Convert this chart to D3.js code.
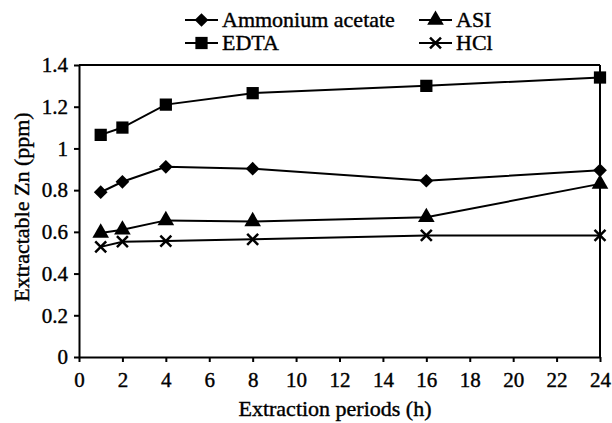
<!DOCTYPE html>
<html><head><meta charset="utf-8">
<script src="https://cdn.jsdelivr.net/npm/d3@7/dist/d3.min.js"></script>
<style>body{margin:0;background:#fff}svg{display:block}svg text{font-family:"Liberation Serif",serif;}</style>
</head><body>
<svg id="c" width="612" height="423"></svg>
<script>
const hours = [1, 2, 4, 8, 16, 24];
const ammoniumAcetate = [0.79, 0.84, 0.912, 0.903, 0.845, 0.895];
const edta = [1.065, 1.10, 1.21, 1.265, 1.30, 1.34];
const asi = [0.595, 0.61, 0.655, 0.65, 0.67, 0.83];
const hcl = [0.528, 0.553, 0.556, 0.564, 0.583, 0.583];
const xTicks = [0,2,4,6,8,10,12,14,16,18,20,22,24];
const yTicks = [0,0.2,0.4,0.6,0.8,1,1.2,1.4];
const seriesNames = ["Ammonium acetate","EDTA","ASI","HCl"];

const svg = d3.select("#c");
const FAM = "Liberation Serif";
function styleText(sel, fs){ sel.style("font-family",FAM).style("font-size",fs+"px").attr("fill","#000").attr("stroke","#000").attr("stroke-width",0.4); }
const m = {l:79, r:600, t:65, b:357};
const x = d3.scaleLinear().domain([0,24]).range([m.l, m.r]);
const y = d3.scaleLinear().domain([0,1.4]).range([m.b, m.t]);

svg.append("line").attr("x1",m.l).attr("x2",m.r).attr("y1",m.t).attr("y2",m.t).attr("stroke","#000").attr("stroke-width",2);
svg.append("line").attr("x1",m.r).attr("x2",m.r).attr("y1",m.t).attr("y2",m.b).attr("stroke","#000").attr("stroke-width",2);

const xa = svg.append("g").attr("transform",`translate(0,${m.b})`)
  .call(d3.axisBottom(x).tickValues(xTicks).tickFormat(d3.format("d")).tickSize(5).tickSizeOuter(0).tickPadding(10));
const ya = svg.append("g").attr("transform",`translate(${m.l},0)`)
  .call(d3.axisLeft(y).tickValues(yTicks).tickFormat(d=>String(+d.toFixed(1))).tickSize(5).tickSizeOuter(0).tickPadding(6));
[xa,ya].forEach(a=>{
  a.attr("font-family",null).attr("font-size",null);
  a.selectAll("path,line").attr("stroke","#000").attr("stroke-width",2);
  styleText(a.selectAll("text"), 21);
});

styleText(svg.append("text").attr("x",335).attr("y",416).attr("text-anchor","middle").text("Extraction periods (h)"), 22);
styleText(svg.append("text").attr("transform",`translate(29,207) rotate(-90)`).attr("text-anchor","middle").text("Extractable Zn (ppm)"), 22);

const symbols = {
  "Ammonium acetate": d3.symbol().type(d3.symbolDiamond2 || d3.symbolDiamond).size(120),
  "EDTA": d3.symbol().type(d3.symbolSquare).size(150),
  "ASI": d3.symbol().type(d3.symbolTriangle).size(120),
  "HCl": d3.symbol().type(d3.symbolTimes || d3.symbolCross).size(80)
};
const data = {"Ammonium acetate":ammoniumAcetate,"EDTA":edta,"ASI":asi,"HCl":hcl};

function drawMarker(g, name, cx, cy){
  const p = g.append("path").attr("d", symbols[name]()).attr("transform",`translate(${cx},${cy})`);
  if(name==="HCl") p.attr("fill","none").attr("stroke","#000").attr("stroke-width",2.5);
  else p.attr("fill","#000");
}
const line = d3.line().x((d,i)=>x(hours[i])).y(d=>y(d));
seriesNames.forEach(n=>{
  svg.append("path").datum(data[n]).attr("d",line).attr("fill","none").attr("stroke","#000").attr("stroke-width",2);
  const g = svg.append("g");
  data[n].forEach((v,i)=>drawMarker(g,n,x(hours[i]),y(v)));
});

const leg = [
  {n:"Ammonium acetate", lx:185, ly:20},
  {n:"ASI", lx:419, ly:20},
  {n:"EDTA", lx:185, ly:43},
  {n:"HCl", lx:419, ly:43}
];
leg.forEach(o=>{
  const g = svg.append("g");
  g.append("line").attr("x1",o.lx).attr("x2",o.lx+33).attr("y1",o.ly).attr("y2",o.ly).attr("stroke","#000").attr("stroke-width",2);
  drawMarker(g,o.n,o.lx+16.5,o.ly);
  styleText(g.append("text").attr("x",o.lx+37).attr("y",o.ly+7).text(o.n), 22);
});
</script>
</body></html>
